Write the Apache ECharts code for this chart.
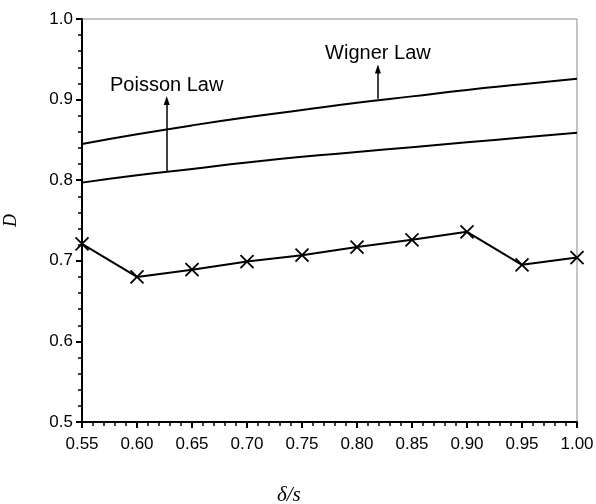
<!DOCTYPE html>
<html>
<head>
<meta charset="utf-8">
<script src="https://cdn.jsdelivr.net/npm/echarts@6/dist/echarts.min.js"></script>
<style>html,body{margin:0;padding:0;background:#fff;}#c{width:596px;height:504px;}</style>
</head>
<body>
<div id="c"></div>
<script>
const xValues = [0.55, 0.60, 0.65, 0.70, 0.75, 0.80, 0.85, 0.90, 0.95, 1.00];
const wignerLaw = [0.845, 0.857, 0.868, 0.878, 0.887, 0.896, 0.904, 0.912, 0.919, 0.926];
const poissonLaw = [0.797, 0.806, 0.814, 0.822, 0.829, 0.835, 0.841, 0.847, 0.853, 0.859];
const measured = [0.721, 0.680, 0.689, 0.699, 0.707, 0.717, 0.726, 0.736, 0.695, 0.704];
const poissonArrow = [[0.627, 0.811], [0.627, 0.899]];
const wignerArrow = [[0.819, 0.901], [0.819, 0.938]];

const pairs = (ys) => xValues.map((x, i) => [x, ys[i]]);
const chart = echarts.init(document.getElementById('c'));
const lab = {fontFamily: 'Liberation Sans, Arial, sans-serif', fontSize: 17, color: '#000'};
chart.setOption({
  animation: false,
  backgroundColor: '#fff',
  grid: {left: 82, right: 19, top: 19, bottom: 82, show: true, borderColor: '#888', borderWidth: 1,
    containLabel: false, outerBoundsMode: 'none'},
  xAxis: {
    type: 'value', min: 0.55, max: 1.0, interval: 0.05,
    axisLine: {lineStyle: {color: '#000', width: 2}},
    axisTick: {length: 6, lineStyle: {color: '#000', width: 2}},
    minorTick: {show: true, splitNumber: 5, length: 4, lineStyle: {color: '#000', width: 1.5}},
    splitLine: {show: false},
    axisLabel: Object.assign({margin: 14, formatter: v => v.toFixed(2)}, lab)
  },
  yAxis: {
    type: 'value', min: 0.5, max: 1.0, interval: 0.1,
    name: 'D', nameLocation: 'middle', nameGap: 62, nameRotate: 90,
    nameTextStyle: {fontFamily: 'Liberation Serif, serif', fontStyle: 'italic', fontSize: 18, color: '#000'},
    axisLine: {lineStyle: {color: '#000', width: 2}},
    axisTick: {length: 6, lineStyle: {color: '#000', width: 2}},
    minorTick: {show: true, splitNumber: 5, length: 4, lineStyle: {color: '#000', width: 1.5}},
    splitLine: {show: false},
    axisLabel: Object.assign({margin: 9, formatter: v => v.toFixed(1)}, lab)
  },
  graphic: [{
    type: 'text', left: 277, top: 485,
    style: {text: 'δ/s', fontFamily: 'Liberation Serif, serif', fontStyle: 'italic', fontSize: 21, fill: '#000'}
  }],
  series: [
    {
      type: 'line', data: pairs(wignerLaw), showSymbol: false, smooth: true,
      lineStyle: {color: '#000', width: 2},
      markLine: {
        silent: true, symbol: ['none', 'triangle'], symbolSize: [6, 9],
        lineStyle: {color: '#000', width: 1.5, type: 'solid'},
        label: {show: true, position: 'end', distance: 5, formatter: 'Wigner Law',
          fontFamily: 'Liberation Sans, Arial, sans-serif', fontSize: 20, color: '#000'},
        data: [[{coord: wignerArrow[0]}, {coord: wignerArrow[1]}]]
      }
    },
    {
      type: 'line', data: pairs(poissonLaw), showSymbol: false, smooth: true,
      lineStyle: {color: '#000', width: 2},
      markLine: {
        silent: true, symbol: ['none', 'triangle'], symbolSize: [6, 9],
        lineStyle: {color: '#000', width: 1.5, type: 'solid'},
        label: {show: true, position: 'end', distance: 5, formatter: 'Poisson Law',
          fontFamily: 'Liberation Sans, Arial, sans-serif', fontSize: 20, color: '#000'},
        data: [[{coord: poissonArrow[0]}, {coord: poissonArrow[1]}]]
      }
    },
    {
      type: 'line', data: pairs(measured),
      symbol: 'path://M0,0L10,10M10,0L0,10', symbolSize: 13,
      itemStyle: {color: 'rgba(0,0,0,0)', borderColor: '#000', borderWidth: 1.8},
      lineStyle: {color: '#000', width: 2}
    }
  ]
});
</script>
</body>
</html>
